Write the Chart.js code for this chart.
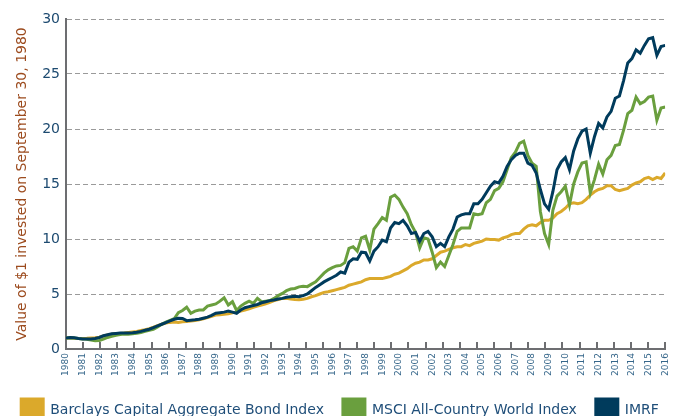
<!DOCTYPE html>
<html>
<head>
<meta charset="utf-8">
<script src="https://cdn.jsdelivr.net/npm/chart.js@4.4.0/dist/chart.umd.min.js"></script>
<style>
  html, body { margin: 0; padding: 0; background: #fff; overflow: hidden; }
  #wrap { position: relative; width: 680px; height: 431px; }
</style>
</head>
<body>
<div id="wrap"><canvas id="myChart"></canvas></div>
<script>
// quarterly values, growth of $1 invested on Sept 30, 1980
const startYear = 1980;
const tickYears = [1980, 1981, 1982, 1983, 1984, 1985, 1986, 1987, 1988, 1989,
  1990, 1991, 1992, 1993, 1994, 1995, 1996, 1997, 1998, 1999,
  2000, 2001, 2002, 2003, 2004, 2005, 2006, 2007, 2008, 2009,
  2010, 2011, 2012, 2013, 2014, 2015, 2016];

const seriesNames = ['Barclays Capital Aggregate Bond Index', 'MSCI All-Country World Index', 'IMRF'];

const bondValues = [
  1.00, 1.02, 0.98, 0.96, 0.95, 0.97, 1.00, 1.02, 1.08, 1.18, 1.28, 1.35, 1.40, 1.42, 1.45, 1.50,
  1.55, 1.60, 1.68, 1.76, 1.85, 1.98, 2.12, 2.25, 2.35, 2.42, 2.45, 2.42, 2.48, 2.50, 2.55, 2.60,
  2.65, 2.75, 2.85, 2.98, 3.08, 3.12, 3.15, 3.20, 3.30, 3.35, 3.45, 3.55, 3.65, 3.78, 3.90, 4.00,
  4.10, 4.25, 4.40, 4.50, 4.60, 4.62, 4.55, 4.50, 4.48, 4.52, 4.60, 4.75, 4.85, 5.00, 5.15, 5.20,
  5.30, 5.40, 5.50, 5.60, 5.80, 5.90, 6.00, 6.10, 6.30, 6.40, 6.42, 6.40, 6.40, 6.50, 6.60, 6.80,
  6.90, 7.10, 7.30, 7.60, 7.80, 7.90, 8.10, 8.10, 8.20, 8.50, 8.80, 8.90, 9.05, 9.20, 9.30, 9.30,
  9.50, 9.40, 9.60, 9.70, 9.80, 10.0, 9.95, 9.95, 9.90, 10.1, 10.2, 10.4, 10.5, 10.5, 10.9, 11.2,
  11.3, 11.2, 11.5, 11.7, 11.7, 11.9, 12.3, 12.5, 12.8, 13.2, 13.3, 13.2, 13.3, 13.6, 14.0, 14.3,
  14.5, 14.6, 14.85, 14.85, 14.5, 14.4, 14.5, 14.6, 14.9, 15.1, 15.2, 15.5, 15.6, 15.4, 15.6, 15.5,
  16.0
];

const msciValues = [
  1.00, 1.02, 1.00, 0.95, 0.92, 0.88, 0.82, 0.75, 0.78, 0.90, 1.05, 1.15, 1.25, 1.32, 1.36, 1.35,
  1.38, 1.42, 1.50, 1.60, 1.70, 1.78, 2.00, 2.25, 2.45, 2.60, 2.75, 3.30, 3.50, 3.80, 3.25, 3.45,
  3.55, 3.55, 3.90, 4.00, 4.10, 4.35, 4.65, 4.00, 4.30, 3.50, 3.90, 4.15, 4.35, 4.15, 4.60, 4.30,
  4.35, 4.40, 4.60, 4.85, 5.05, 5.30, 5.45, 5.50, 5.65, 5.70, 5.67, 5.90, 6.10, 6.50, 6.90, 7.20,
  7.40, 7.55, 7.60, 7.85, 9.15, 9.30, 8.90, 10.1, 10.25, 9.00, 10.9, 11.4, 11.95, 11.7, 13.8, 14.0,
  13.6, 12.9, 12.3, 11.3, 10.6, 9.2, 10.1, 10.0, 8.8, 7.4, 7.9, 7.5, 8.5, 9.5, 10.7, 11.0,
  11.0, 11.0, 12.3, 12.2, 12.3, 13.3, 13.6, 14.4, 14.6, 15.2, 16.3, 17.4, 17.9, 18.7, 18.9, 17.6,
  16.9, 16.6, 12.5, 10.5, 9.5, 12.6, 13.9, 14.3, 14.8, 13.1, 15.0, 16.1, 16.9, 17.0, 14.2, 15.4,
  16.8, 15.9, 17.2, 17.6, 18.5, 18.6, 19.9, 21.4, 21.7, 22.9, 22.3, 22.5, 22.9, 23.0, 20.8, 21.9,
  22.0
];

const imrfValues = [
  1.00, 1.04, 1.02, 0.95, 0.92, 0.90, 0.92, 0.96, 1.05, 1.20, 1.30, 1.38, 1.42, 1.45, 1.45, 1.45,
  1.48, 1.52, 1.60, 1.70, 1.80, 1.95, 2.10, 2.25, 2.40, 2.55, 2.70, 2.80, 2.78, 2.58, 2.62, 2.65,
  2.70, 2.80, 2.90, 3.05, 3.25, 3.30, 3.35, 3.45, 3.35, 3.25, 3.55, 3.75, 3.85, 3.95, 4.05, 4.20,
  4.30, 4.40, 4.45, 4.55, 4.60, 4.70, 4.75, 4.80, 4.75, 4.85, 5.00, 5.30, 5.60, 5.85, 6.10, 6.30,
  6.50, 6.70, 7.00, 6.90, 7.90, 8.20, 8.15, 8.80, 8.75, 8.00, 8.90, 9.30, 9.90, 9.75, 11.0, 11.5,
  11.4, 11.7, 11.2, 10.5, 10.6, 9.8, 10.5, 10.7, 10.2, 9.3, 9.6, 9.3, 10.2, 10.9, 12.0, 12.2,
  12.3, 12.3, 13.2, 13.2, 13.6, 14.2, 14.8, 15.2, 15.1, 15.7, 16.6, 17.2, 17.6, 17.8, 17.8, 16.9,
  16.7, 16.0, 14.5, 13.2, 12.7, 14.3, 16.3, 17.0, 17.4, 16.3, 18.0, 19.1, 19.8, 20.0, 17.8, 19.3,
  20.5, 20.1, 21.1, 21.6, 22.8, 23.0, 24.4, 26.0, 26.4, 27.2, 26.9, 27.6, 28.2, 28.3, 26.7, 27.5,
  27.6
];

const seriesColors = ['#dba92b', '#6a9f3e', '#003b5c'];

function toPoints(values) {
  return values.map((v, i) => ({ x: startYear + i / 4, y: v }));
}

// small tick marks pointing up from the x axis
const axisTicks = {
  id: 'axisTicks',
  afterDatasetsDraw(chart) {
    const { ctx, chartArea } = chart;
    const n = tickYears.length - 2;
    const step = (chartArea.right - chartArea.left) / n;
    ctx.save();
    ctx.strokeStyle = '#6d6e71';
    ctx.lineWidth = 2;
    ctx.beginPath();
    for (let k = 0; k <= n; k++) {
      const x = Math.round(chartArea.left + k * step);
      ctx.moveTo(x, chartArea.bottom);
      ctx.lineTo(x, chartArea.bottom - 7);
    }
    ctx.stroke();
    ctx.restore();
  }
};

const data = {
  datasets: [
    { label: seriesNames[0], data: toPoints(bondValues), borderColor: seriesColors[0], backgroundColor: seriesColors[0], order: 3 },
    { label: seriesNames[1], data: toPoints(msciValues), borderColor: seriesColors[1], backgroundColor: seriesColors[1], order: 2 },
    { label: seriesNames[2], data: toPoints(imrfValues), borderColor: seriesColors[2], backgroundColor: seriesColors[2], order: 1 }
  ]
};

const config = {
  type: 'line',
  data,
  plugins: [axisTicks],
  options: {
    responsive: true,
    maintainAspectRatio: false,
    animation: false,
    layout: { padding: { top: 19, right: 0, left: 0, bottom: 0 } },
    elements: {
      line: { borderWidth: 3, tension: 0 },
      point: { radius: 0 }
    },
    scales: {
      x: {
        type: 'linear',
        min: 1980,
        max: 2016,
        afterFit(scale) { scale.height = 31; },
        grid: { display: false, drawTicks: false },
        border: { display: true, color: '#6d6e71', width: 2 },
        afterBuildTicks(scale) {
          scale.ticks = tickYears.map(y => ({ value: y }));
        },
        ticks: {
          minRotation: 90,
          maxRotation: 90,
          autoSkip: false,
          padding: 4,
          color: '#35668a',
          font: { family: 'DejaVu Sans', size: 9 },
          callback: v => String(v)
        }
      },
      y: {
        min: 0,
        max: 30,
        afterFit(scale) { scale.width = 66; },
        grid: {
          color: c => (c.tick.value === 0 ? 'rgba(0,0,0,0)' : '#9a9a9a'),
          lineWidth: 1,
          drawTicks: false
        },
        border: { display: true, color: '#6d6e71', width: 2, dash: [5, 3] },
        ticks: {
          stepSize: 5,
          padding: 6,
          color: '#1d4a70',
          font: { family: 'DejaVu Sans', size: 14 }
        },
        title: {
          display: true,
          text: 'Value of $1 invested on September 30, 1980',
          color: '#9c4b1e',
          font: { family: 'DejaVu Sans', size: 14 },
          padding: { top: 14, bottom: 0 }
        }
      },
      // empty spacer on the right so the plot stops short of the edge
      spacer: {
        position: 'right',
        afterFit(scale) { scale.width = 12; },
        grid: { display: false },
        border: { display: false },
        ticks: { display: false }
      }
    },
    plugins: {
      legend: {
        position: 'bottom',
        labels: {
          boxWidth: 22,
          boxHeight: 22,
          padding: 19,
          color: '#1f4e79',
          font: { family: 'DejaVu Sans', size: 14 },
          sort: (a, b) => a.datasetIndex - b.datasetIndex
        }
      },
      tooltip: { enabled: false }
    }
  }
};

const myChart = new Chart(document.getElementById('myChart'), config);
</script>
</body>
</html>
